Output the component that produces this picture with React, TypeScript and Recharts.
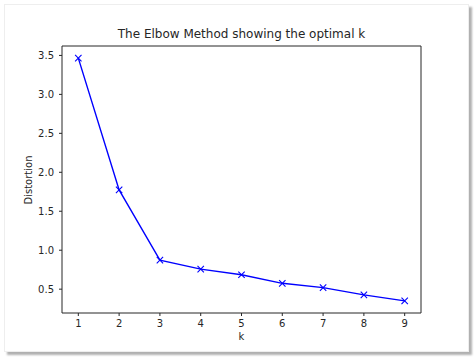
import { LineChart, Line, XAxis, YAxis, ReferenceArea } from 'recharts';

// Elbow curve: distortion per number of clusters k
const kValues = [1, 2, 3, 4, 5, 6, 7, 8, 9];
const distortion = [3.465, 1.774, 0.872, 0.757, 0.685, 0.575, 0.52, 0.426, 0.35];
const xTicks = [1, 2, 3, 4, 5, 6, 7, 8, 9];
const yTicks = [0.5, 1.0, 1.5, 2.0, 2.5, 3.0, 3.5];

const X_DOMAIN: [number, number] = [0.6, 9.4];
const Y_DOMAIN: [number, number] = [0.194, 3.621];

const FONT = '"DejaVu Sans", sans-serif';
const INK = '#262626';

const data = kValues.map((k, i) => ({ k, d: distortion[i] }));

function XMark(props: any) {
  const { cx, cy } = props;
  if (cx == null || cy == null) return null;
  const s = 3.2;
  return (
    <path
      key={`m-${cx}`}
      d={`M${cx - s},${cy - s}L${cx + s},${cy + s}M${cx - s},${cy + s}L${cx + s},${cy - s}`}
      stroke="#0000ff"
      strokeWidth={1.1}
      fill="none"
    />
  );
}

const text = { position: 'absolute' as const, fontFamily: FONT, color: INK, whiteSpace: 'nowrap' as const };

export default function App() {
  return (
    <div style={{ position: 'absolute', left: 0, top: 0, width: 474, height: 358, background: '#fff' }}>
      <div
        style={{
          position: 'absolute', left: 4, top: 4, width: 463, height: 346,
          border: '1px solid #eeeeee', boxShadow: '3px 3px 2px #b0b0b0', background: '#fff',
        }}
      />
      <div style={{ ...text, left: 62, width: 359, top: 27, textAlign: 'center', fontSize: 12 }}>
        The Elbow Method showing the optimal k
      </div>
      <div style={{ position: 'absolute', left: 0, top: 0 }}>
        <LineChart width={474} height={358} data={data} margin={{ top: 46, right: 53, bottom: 15, left: 22 }}>
          <XAxis
            dataKey="k" type="number" domain={X_DOMAIN} ticks={xTicks} allowDataOverflow
            tickSize={3} tickMargin={4} height={30}
            axisLine={false} tickLine={{ stroke: INK }}
            tick={{ fontSize: 10, fill: INK, fontFamily: FONT }}
          />
          <YAxis
            type="number" domain={Y_DOMAIN} ticks={yTicks} allowDataOverflow
            tickFormatter={(v: number) => v.toFixed(1)}
            tickSize={3} tickMargin={5} width={40}
            axisLine={false} tickLine={{ stroke: INK }}
            tick={{ fontSize: 10, fill: INK, fontFamily: FONT }}
          />
          <Line
            dataKey="d" stroke="#0000ff" strokeWidth={1.4} dot={<XMark />} activeDot={false}
            isAnimationActive={false}
          />
          <ReferenceArea
            x1={X_DOMAIN[0]} x2={X_DOMAIN[1]} y1={Y_DOMAIN[0]} y2={Y_DOMAIN[1]}
            fill="none" stroke={INK} strokeWidth={1} fillOpacity={0} ifOverflow="visible"
          />
        </LineChart>
      </div>
      <div style={{ ...text, left: 62, width: 359, top: 331, textAlign: 'center', fontSize: 10 }}>k</div>
      <div
        style={{
          ...text, left: 29, top: 179.5, fontSize: 10, lineHeight: '12px',
          transform: 'translate(-50%, -50%) rotate(-90deg)',
        }}
      >
        Distortion
      </div>
    </div>
  );
}
